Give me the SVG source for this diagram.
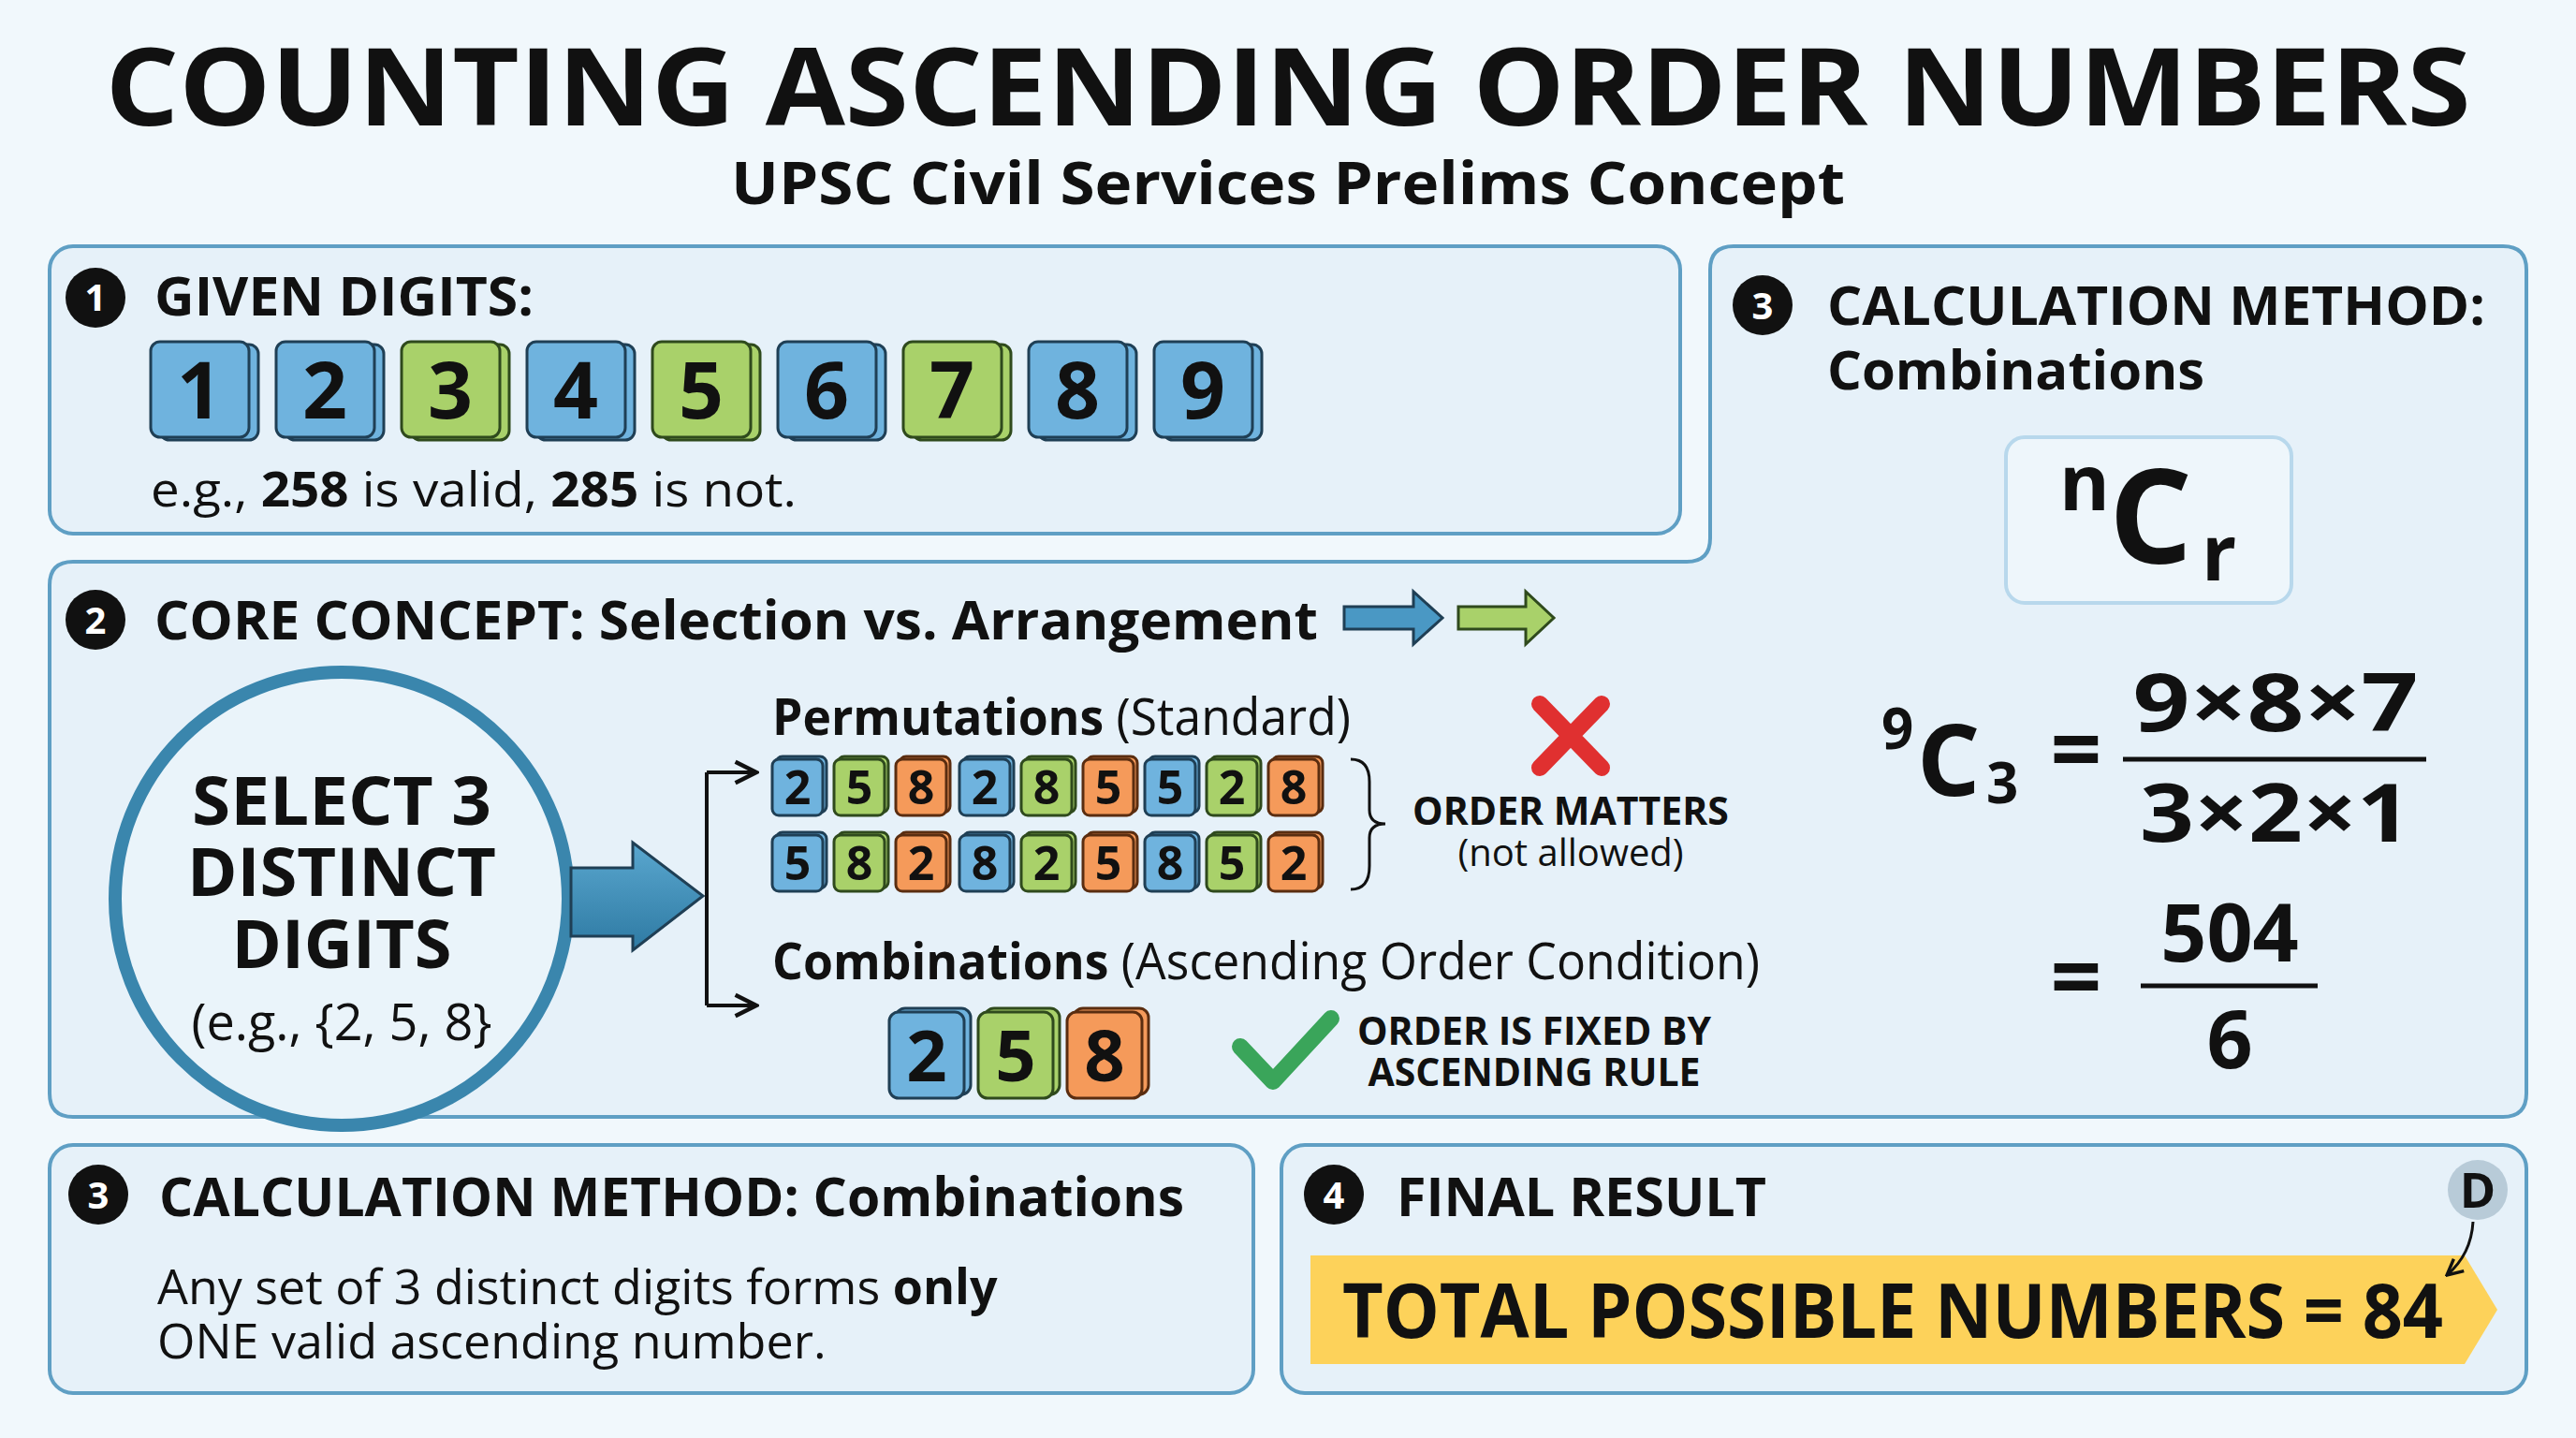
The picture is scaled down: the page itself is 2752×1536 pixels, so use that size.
<svg xmlns="http://www.w3.org/2000/svg" width="2752" height="1536" viewBox="0 0 2752 1536">
<defs>
<style>
text{font-family:"Open Sans","Liberation Sans",sans-serif;fill:#111;}
.b{font-weight:700;}
.h{font-weight:700;font-size:58px;}
.panel{fill:#e6f1f9;stroke:#5f9fc4;stroke-width:4;}
.badge{fill:#111;}
.bt{fill:#fff;font-weight:700;font-size:40px;text-anchor:middle;}
.tb{fill:#6fb3de;stroke:#1f3f55;stroke-width:3;}
.tg{fill:#a9d16a;stroke:#2f4a1d;stroke-width:3;}
.to{fill:#f59a5a;stroke:#5a2d10;stroke-width:3;}
.dig{font-weight:700;text-anchor:middle;}
.ln{stroke:#111;stroke-width:4;fill:none;}
</style>
<marker id="ah" viewBox="0 0 10 10" refX="9" refY="5" markerWidth="7" markerHeight="7" orient="auto"><path d="M1,1 L9,5 L1,9" fill="none" stroke="#111" stroke-width="1.6"/></marker>
<linearGradient id="ag" x1="0" y1="0" x2="0" y2="1"><stop offset="0" stop-color="#5aa7cf"/><stop offset="1" stop-color="#2e7aa3"/></linearGradient>
</defs>
<rect width="2752" height="1536" fill="#f1f8fc"/>

<g id="title">
<text x="1376" y="134" class="b" font-size="114" text-anchor="middle" textLength="2527" lengthAdjust="spacingAndGlyphs" font-weight="800">COUNTING ASCENDING ORDER NUMBERS</text>
<text x="1376" y="218" class="b" font-size="62" text-anchor="middle" textLength="1190" lengthAdjust="spacingAndGlyphs">UPSC Civil Services Prelims Concept</text>
</g>

<g id="panel1">
<rect class="panel" x="53" y="263" width="1742" height="307" rx="25"/>
<circle class="badge" cx="102" cy="318" r="32"/><text class="bt" x="102" y="332" font-size="44">1</text>
<text class="h" x="165" y="337" textLength="405" lengthAdjust="spacingAndGlyphs">GIVEN DIGITS:</text>
<g id="digits">
<g><rect class="tb" x="171" y="368" width="105" height="102" rx="10"/><rect class="tb" x="161" y="365" width="105" height="102" rx="10"/><text class="dig" x="213" y="447" font-size="84">1</text></g>
<g><rect class="tb" x="305" y="368" width="105" height="102" rx="10"/><rect class="tb" x="295" y="365" width="105" height="102" rx="10"/><text class="dig" x="347" y="447" font-size="84">2</text></g>
<g><rect class="tg" x="439" y="368" width="105" height="102" rx="10"/><rect class="tg" x="429" y="365" width="105" height="102" rx="10"/><text class="dig" x="481" y="447" font-size="84">3</text></g>
<g><rect class="tb" x="573" y="368" width="105" height="102" rx="10"/><rect class="tb" x="563" y="365" width="105" height="102" rx="10"/><text class="dig" x="615" y="447" font-size="84">4</text></g>
<g><rect class="tg" x="707" y="368" width="105" height="102" rx="10"/><rect class="tg" x="697" y="365" width="105" height="102" rx="10"/><text class="dig" x="749" y="447" font-size="84">5</text></g>
<g><rect class="tb" x="841" y="368" width="105" height="102" rx="10"/><rect class="tb" x="831" y="365" width="105" height="102" rx="10"/><text class="dig" x="883" y="447" font-size="84">6</text></g>
<g><rect class="tg" x="975" y="368" width="105" height="102" rx="10"/><rect class="tg" x="965" y="365" width="105" height="102" rx="10"/><text class="dig" x="1017" y="447" font-size="84">7</text></g>
<g><rect class="tb" x="1109" y="368" width="105" height="102" rx="10"/><rect class="tb" x="1099" y="365" width="105" height="102" rx="10"/><text class="dig" x="1151" y="447" font-size="84">8</text></g>
<g><rect class="tb" x="1243" y="368" width="105" height="102" rx="10"/><rect class="tb" x="1233" y="365" width="105" height="102" rx="10"/><text class="dig" x="1285" y="447" font-size="84">9</text></g>
</g>
<text x="161" y="541" font-size="52" textLength="690" lengthAdjust="spacingAndGlyphs">e.g., <tspan class="b">258</tspan> is valid, <tspan class="b">285</tspan> is not.</text>
</g>

<g id="panel2and3">
<path class="panel" d="M1852,263 H2674 Q2699,263 2699,288 V1168 Q2699,1193 2674,1193 H78 Q53,1193 53,1168 V625 Q53,600 78,600 H1802 Q1827,600 1827,575 V288 Q1827,263 1852,263 Z"/>
</g>

<g id="core">
<circle class="badge" cx="102" cy="662" r="32"/><text class="bt" x="102" y="677" font-size="44">2</text>
<text class="h" x="165" y="683" textLength="1243" lengthAdjust="spacingAndGlyphs">CORE CONCEPT: Selection vs. Arrangement</text>
<path d="M1436,648 H1510 V632 L1541,660 L1510,688 V672 H1436 Z" fill="#4a98c4" stroke="#1f3f55" stroke-width="3"/>
<path d="M1558,648 H1630 V632 L1660,660 L1630,688 V672 H1558 Z" fill="#a9d16a" stroke="#2f4a1d" stroke-width="3"/>
</g>

<g id="select">
<circle cx="365" cy="960" r="242" fill="#eaf4fa" stroke="#3a86ad" stroke-width="14"/>
<text class="b dig" x="365" y="881" font-size="72" textLength="320" lengthAdjust="spacingAndGlyphs">SELECT 3</text>
<text class="b dig" x="365" y="957" font-size="72" textLength="330" lengthAdjust="spacingAndGlyphs">DISTINCT</text>
<text class="b dig" x="365" y="1034" font-size="72" textLength="235" lengthAdjust="spacingAndGlyphs">DIGITS</text>
<text x="365" y="1111" font-size="54" text-anchor="middle">(e.g., {2, 5, 8}</text>
</g>

<g id="connectors">
<path d="M610,927 H676 V900 L751,957 L676,1015 V1000 H610 Z" fill="url(#ag)" stroke="#1f3f55" stroke-width="3"/>
<path class="ln" d="M755,825 V1074"/>
<path class="ln" d="M755,825 H808" marker-end="url(#ah)"/>
<path class="ln" d="M755,1074 H808" marker-end="url(#ah)"/>
</g>

<g id="permutations">
<text x="825" y="785" font-size="54" textLength="618" lengthAdjust="spacingAndGlyphs"><tspan class="b">Permutations</tspan> (Standard)</text>
<g id="perm-tiles">
<g font-size="50">
<rect class="tb" x="829" y="808" width="54" height="60" rx="7"/><rect class="tb" x="825" y="811" width="54" height="60" rx="7"/><text class="dig" x="852" y="859">2</text>
<rect class="tg" x="895" y="808" width="54" height="60" rx="7"/><rect class="tg" x="891" y="811" width="54" height="60" rx="7"/><text class="dig" x="918" y="859">5</text>
<rect class="to" x="961" y="808" width="54" height="60" rx="7"/><rect class="to" x="957" y="811" width="54" height="60" rx="7"/><text class="dig" x="984" y="859">8</text>
<rect class="tb" x="1029" y="808" width="54" height="60" rx="7"/><rect class="tb" x="1025" y="811" width="54" height="60" rx="7"/><text class="dig" x="1052" y="859">2</text>
<rect class="tg" x="1095" y="808" width="54" height="60" rx="7"/><rect class="tg" x="1091" y="811" width="54" height="60" rx="7"/><text class="dig" x="1118" y="859">8</text>
<rect class="to" x="1161" y="808" width="54" height="60" rx="7"/><rect class="to" x="1157" y="811" width="54" height="60" rx="7"/><text class="dig" x="1184" y="859">5</text>
<rect class="tb" x="1227" y="808" width="54" height="60" rx="7"/><rect class="tb" x="1223" y="811" width="54" height="60" rx="7"/><text class="dig" x="1250" y="859">5</text>
<rect class="tg" x="1293" y="808" width="54" height="60" rx="7"/><rect class="tg" x="1289" y="811" width="54" height="60" rx="7"/><text class="dig" x="1316" y="859">2</text>
<rect class="to" x="1359" y="808" width="54" height="60" rx="7"/><rect class="to" x="1355" y="811" width="54" height="60" rx="7"/><text class="dig" x="1382" y="859">8</text>

<rect class="tb" x="829" y="889" width="54" height="60" rx="7"/><rect class="tb" x="825" y="892" width="54" height="60" rx="7"/><text class="dig" x="852" y="940">5</text>
<rect class="tg" x="895" y="889" width="54" height="60" rx="7"/><rect class="tg" x="891" y="892" width="54" height="60" rx="7"/><text class="dig" x="918" y="940">8</text>
<rect class="to" x="961" y="889" width="54" height="60" rx="7"/><rect class="to" x="957" y="892" width="54" height="60" rx="7"/><text class="dig" x="984" y="940">2</text>
<rect class="tb" x="1029" y="889" width="54" height="60" rx="7"/><rect class="tb" x="1025" y="892" width="54" height="60" rx="7"/><text class="dig" x="1052" y="940">8</text>
<rect class="tg" x="1095" y="889" width="54" height="60" rx="7"/><rect class="tg" x="1091" y="892" width="54" height="60" rx="7"/><text class="dig" x="1118" y="940">2</text>
<rect class="to" x="1161" y="889" width="54" height="60" rx="7"/><rect class="to" x="1157" y="892" width="54" height="60" rx="7"/><text class="dig" x="1184" y="940">5</text>
<rect class="tb" x="1227" y="889" width="54" height="60" rx="7"/><rect class="tb" x="1223" y="892" width="54" height="60" rx="7"/><text class="dig" x="1250" y="940">8</text>
<rect class="tg" x="1293" y="889" width="54" height="60" rx="7"/><rect class="tg" x="1289" y="892" width="54" height="60" rx="7"/><text class="dig" x="1316" y="940">5</text>
<rect class="to" x="1359" y="889" width="54" height="60" rx="7"/><rect class="to" x="1355" y="892" width="54" height="60" rx="7"/><text class="dig" x="1382" y="940">2</text>
</g>
</g>
<path d="M1443,811 Q1463,811 1463,835 V865 Q1463,880 1480,880 Q1463,880 1463,895 V925 Q1463,950 1443,950" fill="none" stroke="#111" stroke-width="3"/>
<path d="M1645,752 L1711,820 M1711,752 L1645,820" stroke="#e03030" stroke-width="18" stroke-linecap="round"/>
<text class="b" x="1678" y="881" font-size="41" text-anchor="middle">ORDER MATTERS</text>
<text x="1678" y="925" font-size="40" text-anchor="middle">(not allowed)</text>
</g>

<g id="combinations">
<text x="825" y="1046" font-size="54" textLength="1055" lengthAdjust="spacingAndGlyphs"><tspan class="b">Combinations</tspan> (Ascending Order Condition)</text>
<g font-size="76">
<rect class="tb" x="957" y="1077" width="80" height="92" rx="10"/><rect class="tb" x="950" y="1081" width="80" height="92" rx="10"/><text class="dig" x="990" y="1155">2</text>
<rect class="tg" x="1052" y="1077" width="80" height="92" rx="10"/><rect class="tg" x="1045" y="1081" width="80" height="92" rx="10"/><text class="dig" x="1085" y="1155">5</text>
<rect class="to" x="1147" y="1077" width="80" height="92" rx="10"/><rect class="to" x="1140" y="1081" width="80" height="92" rx="10"/><text class="dig" x="1180" y="1155">8</text>
</g>
<path d="M1325,1118 L1360,1155 L1422,1088" fill="none" stroke="#3aa55a" stroke-width="18" stroke-linecap="round" stroke-linejoin="round"/>
<text class="b" x="1639" y="1116" font-size="41" text-anchor="middle">ORDER IS FIXED BY</text>
<text class="b" x="1639" y="1160" font-size="41" text-anchor="middle">ASCENDING RULE</text>
</g>

<g id="method-right">
<circle class="badge" cx="1883" cy="326" r="32"/><text class="bt" x="1883" y="341" font-size="44">3</text>
<text class="h" x="1952" y="347" textLength="703" lengthAdjust="spacingAndGlyphs">CALCULATION METHOD:</text>
<text class="h" x="1952" y="416">Combinations</text>
<rect x="2143" y="467" width="305" height="177" rx="20" fill="#eef6fb" stroke="#b8d8ec" stroke-width="4"/>
<text class="b" x="2200" y="545" font-size="82">n</text>
<text class="b" x="2253" y="602" font-size="140">C</text>
<text class="b" x="2352" y="620" font-size="82">r</text>
<text class="b" x="2010" y="800" font-size="60">9</text>
<text class="b" x="2048" y="850" font-size="106">C</text>
<text class="b" x="2122" y="858" font-size="60">3</text>
<text class="b" x="2218" y="835" font-size="96" text-anchor="middle">=</text>
<text class="b" x="2431" y="781" font-size="86" text-anchor="middle" textLength="305" lengthAdjust="spacingAndGlyphs">9×8×7</text>
<path d="M2268,811 H2592" stroke="#111" stroke-width="5"/>
<text class="b" x="2431" y="899" font-size="86" text-anchor="middle" textLength="290" lengthAdjust="spacingAndGlyphs">3×2×1</text>
<text class="b" x="2218" y="1078" font-size="96" text-anchor="middle">=</text>
<text class="b" x="2382" y="1027" font-size="86" text-anchor="middle">504</text>
<path d="M2287,1053 H2476" stroke="#111" stroke-width="5"/>
<text class="b" x="2382" y="1141" font-size="86" text-anchor="middle">6</text>
</g>

<g id="method-bottom">
<rect class="panel" x="53" y="1223" width="1286" height="265" rx="25"/>
<circle class="badge" cx="105" cy="1276" r="32"/><text class="bt" x="105" y="1291" font-size="44">3</text>
<text class="h" x="170" y="1299" textLength="1095" lengthAdjust="spacingAndGlyphs">CALCULATION METHOD: Combinations</text>
<text x="168" y="1393" font-size="52">Any set of 3 distinct digits forms <tspan class="b">only</tspan></text>
<text x="168" y="1451" font-size="52">ONE valid ascending number.</text>
</g>

<g id="final">
<rect class="panel" x="1369" y="1223" width="1330" height="265" rx="25" fill="#d7eaf6"/>
<circle class="badge" cx="1425" cy="1276" r="32"/><text class="bt" x="1425" y="1291" font-size="44">4</text>
<text class="h" x="1492" y="1299" textLength="395" lengthAdjust="spacingAndGlyphs">FINAL RESULT</text>
<circle cx="2647" cy="1271" r="32" fill="#b8cbd8"/>
<text class="b" x="2647" y="1290" font-size="52" text-anchor="middle">D</text>
<path d="M1400,1341 H2633 L2668,1399 L2633,1457 H1400 Z" fill="#fdd25a"/>
<text class="b" x="1434" y="1429" font-size="80" textLength="1176" lengthAdjust="spacingAndGlyphs">TOTAL POSSIBLE NUMBERS = 84</text>
<path d="M2642,1305 Q2640,1340 2614,1362" fill="none" stroke="#111" stroke-width="3" marker-end="url(#ah)"/>
</g>
</svg>
